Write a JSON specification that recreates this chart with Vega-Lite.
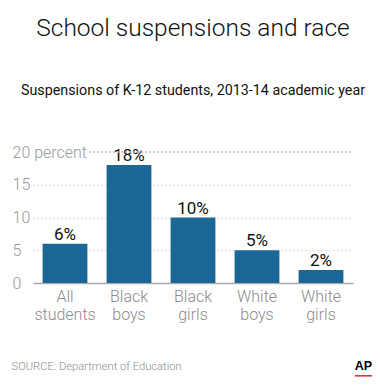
{
  "$schema": "https://vega.github.io/schema/vega-lite/v6.json",
  "width": 320,
  "height": 131,
  "autosize": {"type": "none"},
  "padding": {"left": 33, "top": 152, "right": 27, "bottom": 104},
  "background": "white",
  "config": {"view": {"stroke": null}},
  "title": {
    "text": "School suspensions and race",
    "subtitle": "Suspensions of K-12 students, 2013-14 academic year",
    "anchor": "middle",
    "font": "Roboto",
    "fontSize": 24.5,
    "fontWeight": 300,
    "color": "#111111",
    "subtitleFont": "Roboto",
    "subtitleFontSize": 14.3,
    "subtitleFontWeight": "normal",
    "subtitleColor": "#111111",
    "subtitlePadding": 42,
    "offset": 45
  },
  "data": {
    "values": [
      {"group": "All students", "value": 6, "label": "6%"},
      {"group": "Black boys", "value": 18, "label": "18%"},
      {"group": "Black girls", "value": 10, "label": "10%"},
      {"group": "White boys", "value": 5, "label": "5%"},
      {"group": "White girls", "value": 2, "label": "2%"}
    ]
  },
  "resolve": {"scale": {"x": "independent", "y": "independent"}},
  "layer": [
    {
      "mark": {"type": "bar", "color": "#1b6897"},
      "encoding": {
        "x": {
          "field": "group", "type": "nominal", "sort": null,
          "scale": {"paddingInner": 0.3, "paddingOuter": 0.15},
          "axis": {
            "title": "SOURCE: Department of Education",
            "titleAnchor": "start", "titleAlign": "left", "titleBaseline": "alphabetic",
            "titleX": -22, "titleY": 86,
            "titleFont": "Roboto", "titleFontSize": 11.2, "titleFontWeight": 300, "titleColor": "#8c8c8c",
            "labelAngle": 0, "labelExpr": "split(datum.label, ' ')",
            "labelFont": "Roboto", "labelFontWeight": 300, "labelFontSize": 16, "labelColor": "#8c8c8c", "labelPadding": 5, "labelLineHeight": 18,
            "ticks": false, "domainColor": "#aaaaaa", "domainWidth": 1.5, "grid": false
          }
        },
        "y": {
          "field": "value", "type": "quantitative",
          "scale": {"domain": [0, 20]},
          "axis": {
            "title": null, "values": [0, 5, 10, 15, 20],
            "labelExpr": "datum.value == 20 ? '20 percent' : (datum.value < 10 ? '\u2007' + datum.label : datum.label)",
            "labelAlign": "left", "labelPadding": 21,
            "labelFont": "Roboto", "labelFontWeight": 300, "labelFontSize": 16, "labelColor": "#999999",
            "domain": false, "ticks": false,
            "grid": true, "gridDash": [1, 3], "gridColor": "#bbbbbb",
            "gridOpacity": {"condition": {"test": "datum.value == 20 || datum.value == 0", "value": 0}, "value": 1}
          }
        }
      }
    },
    {
      "mark": {"type": "text", "baseline": "alphabetic", "dy": -4, "font": "Roboto", "fontSize": 17, "color": "#111111"},
      "encoding": {
        "x": {"field": "group", "type": "nominal", "sort": null, "scale": {"paddingInner": 0.3, "paddingOuter": 0.15}, "axis": null},
        "y": {
          "field": "value", "type": "quantitative", "scale": {"domain": [0, 20]},
          "axis": {
            "orient": "right", "title": "AP", "labels": false, "ticks": false, "domain": false, "grid": false,
            "titleAngle": 0, "titleAlign": "center", "titleBaseline": "alphabetic",
            "titleX": 10, "titleY": 217,
            "titleFont": "Liberation Sans", "titleFontSize": 12.5, "titleFontWeight": "bold", "titleColor": "#000000"
          }
        },
        "text": {"field": "label"}
      }
    },
    {
      "mark": {"type": "rule", "color": "#bbbbbb", "strokeDash": [1, 3]},
      "encoding": {
        "x": {"datum": "Black boys", "bandPosition": -0.38, "scale": {"domain": ["All students", "Black boys", "Black girls", "White boys", "White girls"], "paddingInner": 0.3, "paddingOuter": 0.15},
          "axis": {
            "orient": "top", "title": "\u2501\u2501\u2501", "labels": false, "ticks": false, "domain": false, "grid": false,
            "titleAnchor": "start", "titleAlign": "center", "titleBaseline": "alphabetic",
            "titleX": 330, "titleY": 226,
            "titleFont": "DejaVu Sans", "titleFontSize": 9.5, "titleFontWeight": "normal", "titleColor": "#e0313f"
          }
        },
        "x2": {"datum": "White girls", "bandPosition": 1.2},
        "y": {"datum": 20, "scale": {"domain": [0, 20]}, "axis": null}
      }
    }
  ]
}
